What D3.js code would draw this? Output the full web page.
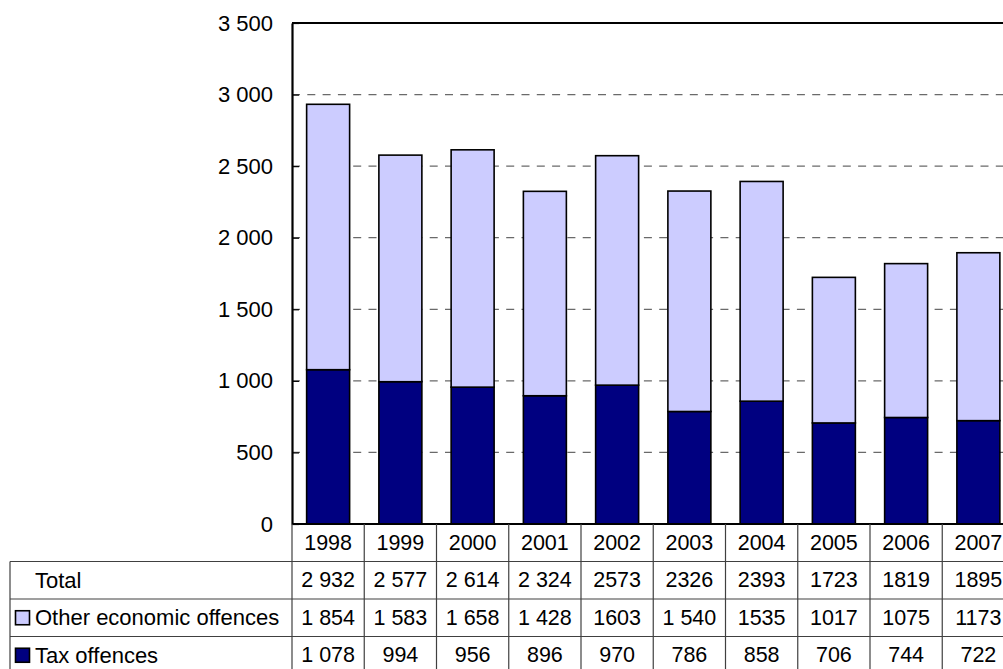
<!DOCTYPE html>
<html>
<head>
<meta charset="utf-8">
<script src="https://cdn.jsdelivr.net/npm/d3@7"></script>
<style>
  html, body { margin: 0; padding: 0; background: #fff; }
  svg { display: block; font-family: Arial, "Liberation Sans", sans-serif; }
</style>
</head>
<body>
<svg id="chart" width="1003" height="669"></svg>
<script>
// Registered economic crime, 1998-2007
const years = ["1998", "1999", "2000", "2001", "2002", "2003", "2004", "2005", "2006", "2007"];
// Table cell texts, as printed in the data table
const totalLabels = ["2 932", "2 577", "2 614", "2 324", "2573", "2326", "2393", "1723", "1819", "1895"];
const otherLabels = ["1 854", "1 583", "1 658", "1 428", "1603", "1 540", "1535", "1017", "1075", "1173"];
const taxLabels   = ["1 078", "994", "956", "896", "970", "786", "858", "706", "744", "722"];
const yTicks = [0, 500, 1000, 1500, 2000, 2500, 3000, 3500];

const num = s => +s.replace(/\s/g, "");
const otherValues = otherLabels.map(num);
const taxValues = taxLabels.map(num);

const series = [
  { key: "tax", name: "Tax offences", color: "#000080", values: taxValues, labels: taxLabels },
  { key: "other", name: "Other economic offences", color: "#CCCCFF", values: otherValues, labels: otherLabels }
];

const rows = years.map((y, i) => ({ year: y, tax: taxValues[i], other: otherValues[i] }));

const svg = d3.select("#chart");
const plot = { left: 292, top: 23, right: 1014.5, bottom: 524 };

const x = d3.scaleBand().domain(years).range([plot.left, plot.right])
  .paddingInner(0.405).paddingOuter(0.2025);
const col = d3.scaleBand().domain(years).range([plot.left, plot.right]).padding(0);
const y = d3.scaleLinear().domain([0, 3500]).range([plot.bottom, plot.top]);

const fmt = d3.formatLocale({ decimal: ",", thousands: " ", grouping: [3], currency: ["", ""] }).format(",d");

// Dashed gridlines
svg.append("g").selectAll("line")
  .data(yTicks.filter(t => t > 0 && t < 3500))
  .join("line")
  .attr("x1", plot.left).attr("x2", plot.right)
  .attr("y1", d => y(d)).attr("y2", d => y(d))
  .attr("stroke", "#6a6a6a").attr("stroke-width", 1.3)
  .attr("stroke-dasharray", "8 7.3");

// Stacked bars
const stacked = d3.stack().keys(series.map(s => s.key))(rows);
svg.append("g").selectAll("g")
  .data(stacked)
  .join("g")
  .attr("fill", (d, i) => series[i].color)
  .selectAll("rect")
  .data(d => d)
  .join("rect")
  .attr("x", d => x(d.data.year))
  .attr("width", x.bandwidth())
  .attr("y", d => y(d[1]))
  .attr("height", d => y(d[0]) - y(d[1]))
  .attr("stroke", "#000").attr("stroke-width", 1.6);

// Plot frame
svg.append("line").attr("x1", plot.left).attr("x2", plot.right + 10)
  .attr("y1", plot.top).attr("y2", plot.top).attr("stroke", "#000").attr("stroke-width", 2.2);
svg.append("line").attr("x1", plot.left).attr("x2", plot.right + 10)
  .attr("y1", plot.bottom).attr("y2", plot.bottom).attr("stroke", "#000").attr("stroke-width", 2.2);

// Y axis
const yAxis = d3.axisLeft(y).tickValues(yTicks).tickFormat(fmt)
  .tickSizeInner(-7).tickSizeOuter(0).tickPadding(19);
const ya = svg.append("g").attr("transform", `translate(${plot.left},0)`).call(yAxis);
ya.select(".domain").attr("stroke", "#000").attr("stroke-width", 2.2);
ya.selectAll(".tick line").attr("stroke", "#000").attr("stroke-width", 1.2);
ya.selectAll(".tick text").attr("font-size", 22).attr("fill", "#000")
  .attr("font-family", "Arial, 'Liberation Sans', sans-serif");

// Data table below the plot
const rowH = 37.5;
const tableTop = plot.bottom;
const tableLeft = 10;
const tableBottom = tableTop + rowH * 4;
const line = (x1, y1, x2, y2) => svg.append("line")
  .attr("x1", x1).attr("y1", y1).attr("x2", x2).attr("y2", y2)
  .attr("stroke", "#404040").attr("stroke-width", 1.2);

const table = svg.append("g").attr("font-size", 21.5).attr("fill", "#000");

// Grid of the table
[1, 2, 3].forEach(r => line(tableLeft, tableTop + r * rowH, plot.right + 10, tableTop + r * rowH));
line(tableLeft, tableTop + rowH, tableLeft, tableBottom);
years.forEach(yr => line(col(yr), tableTop, col(yr), tableBottom));
line(plot.right, tableTop, plot.right, tableBottom);

// Year header
table.selectAll("text.year").data(years).join("text")
  .attr("class", "year")
  .attr("x", d => col(d) + col.bandwidth() / 2)
  .attr("y", tableTop + rowH / 2)
  .attr("text-anchor", "middle").attr("dominant-baseline", "central")
  .text(d => d);

const tableRows = [
  { name: "Total", labels: totalLabels, color: null },
  { name: series[1].name, labels: series[1].labels, color: series[1].color },
  { name: series[0].name, labels: series[0].labels, color: series[0].color }
];

tableRows.forEach((r, ri) => {
  const cy = tableTop + rowH * (ri + 1) + rowH / 2;
  if (r.color) {
    table.append("rect").attr("x", 15.5).attr("y", cy - 7).attr("width", 14).attr("height", 14)
      .attr("fill", r.color).attr("stroke", "#000").attr("stroke-width", 1.6);
  }
  table.append("text").attr("x", 35).attr("y", cy).attr("font-size", 22)
    .attr("dominant-baseline", "central").text(r.name);
  table.selectAll(null).data(r.labels).join("text")
    .attr("x", (d, i) => col(years[i]) + col.bandwidth() / 2)
    .attr("y", cy)
    .attr("text-anchor", "middle").attr("dominant-baseline", "central")
    .text(d => d);
});
</script>
</body>
</html>
